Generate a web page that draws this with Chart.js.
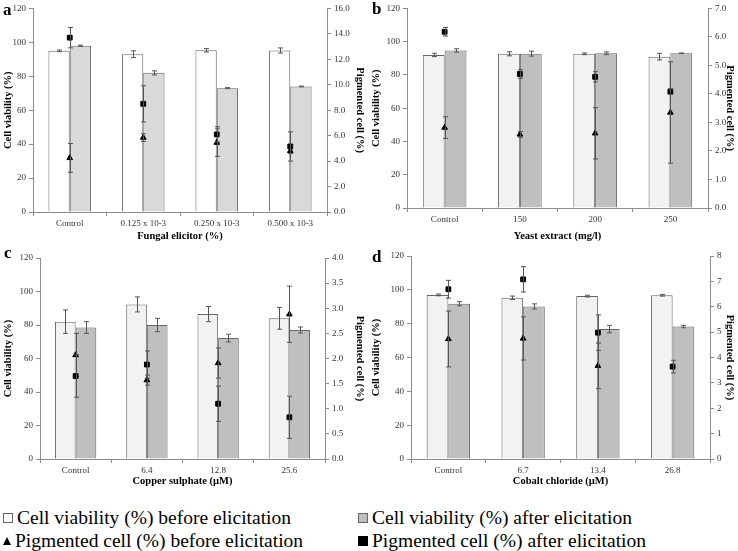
<!DOCTYPE html>
<html lang="en">
<head>
<meta charset="UTF-8">
<title>Elicitation panels</title>
<script src="https://cdn.jsdelivr.net/npm/chart.js"></script>
<style>
  body { margin: 0; width: 738px; height: 551px; background: #fff; position: relative; overflow: hidden;
         font-family: "Liberation Serif", serif; }
  .panel { position: absolute; }
  .letter { position: absolute; font-family: "Liberation Serif", serif; font-weight: bold; font-size: 17px; line-height: 17px; }
  .leg { position: absolute; font-family: "Liberation Serif", serif; font-size: 19.5px; line-height: 22px; color: #000; white-space: nowrap; }
  .sym { display: inline-block; vertical-align: middle; margin-right: 4px; position: relative; top: -2px; }
  .box { width: 8px; height: 8px; border: 1px solid #666; }
  .tri { width: 0; height: 0; border-left: 4px solid transparent; border-right: 4px solid transparent; border-bottom: 8px solid #000; }
</style>
</head>
<body>
<div class="panel" style="left:0;top:0;width:368px;height:245px"><canvas id="pa"></canvas></div>
<div class="panel" style="left:368px;top:0;width:370px;height:245px"><canvas id="pb"></canvas></div>
<div class="panel" style="left:0;top:245px;width:368px;height:245px"><canvas id="pc"></canvas></div>
<div class="panel" style="left:368px;top:245px;width:370px;height:245px"><canvas id="pd"></canvas></div>

<div class="letter" style="left:3px;top:1px">a</div>
<div class="letter" style="left:372px;top:0px">b</div>
<div class="letter" style="left:4px;top:244px">c</div>
<div class="letter" style="left:372px;top:248px">d</div>

<div class="leg" style="left:3px;top:507px"><span class="sym box" style="background:#fff"></span>Cell viability (%) before elicitation</div>
<div class="leg" style="left:358px;top:507px"><span class="sym box" style="background:#bfbfbf"></span>Cell viability (%) after elicitation</div>
<div class="leg" style="left:3px;top:530px"><span class="sym tri"></span>Pigmented cell (%) before elicitation</div>
<div class="leg" style="left:358px;top:530px"><span class="sym box" style="background:#000;border-color:#000"></span>Pigmented cell (%) after elicitation</div>

<script>
// ---- panel a: fungal elicitor
const catsA = ['Control', '0.125 x 10-3', '0.250 x 10-3', '0.500 x 10-3'];
const viaBeforeA = [95, 93, 95.3, 95.2];
const viaBeforeErrA = [0.5, 2, 1, 1.5];
const viaAfterA = [98, 82, 73, 74];
const viaAfterErrA = [0.3, 1.2, 0.3, 0.2];
const pigBeforeA = [4.25, 5.85, 5.45, 4.8];
const pigBeforeErrA = [1.13, 0.3, 1.08, 0.2];
const pigAfterA = [13.7, 8.5, 6.1, 5.15];
const pigAfterErrA = [0.8, 1.42, 0.6, 1.15];

// ---- panel b: yeast extract
const catsB = ['Control', '150', '200', '250'];
const viaBeforeB = [92, 92.7, 92.7, 91];
const viaBeforeErrB = [1, 1.2, 0.5, 2];
const viaAfterB = [94.7, 92.8, 93, 93];
const viaAfterErrB = [1, 1.5, 0.8, 0.2];
const pigBeforeB = [2.82, 2.58, 2.62, 3.35];
const pigBeforeErrB = [0.38, 0.1, 0.9, 1.78];
const pigAfterB = [6.18, 4.7, 4.6, 4.08];
const pigAfterErrB = [0.15, 0.15, 0.18, 0.1];

// ---- panel c: copper sulphate
const catsC = ['Control', '6.4', '12.8', '25.6'];
const viaBeforeC = [82, 92.3, 86.5, 84];
const viaBeforeErrC = [7, 4.5, 4.5, 6.5];
const viaAfterC = [78.5, 80, 72.2, 77];
const viaAfterErrC = [3.5, 4, 2.3, 1.8];
const pigBeforeC = [2.07, 1.57, 1.91, 2.88];
const pigBeforeErrC = [0.43, 0.1, 0.3, 0.56];
const pigAfterC = [1.65, 1.88, 1.1, 0.83];
const pigAfterErrC = [0.42, 0.27, 0.35, 0.42];

// ---- panel d: cobalt chloride
const catsD = ['Control', '6.7', '13.4', '26.8'];
const viaBeforeD = [97, 95.3, 96.3, 96.8];
const viaBeforeErrD = [0.5, 1, 0.5, 0.5];
const viaAfterD = [91.8, 90.2, 76.8, 78.3];
const viaAfterErrD = [1.2, 1.5, 2.2, 0.7];
const pigBeforeD = [4.73, 4.75, 3.67, null];
const pigBeforeErrD = [1.1, 0.85, 0.9, 0];
const pigAfterD = [6.69, 7.08, 4.98, 3.64];
const pigAfterErrD = [0.35, 0.5, 0.7, 0.25];

const SERIF = '"Liberation Serif", serif';
const AXIS = '#8c8c8c';

// draws error bars right after each dataset so stacking order is kept
const errorBars = {
  id: 'errorBars',
  afterDatasetDraw(chart, args) {
    const ds = chart.data.datasets[args.index];
    if (!ds.errors) return;
    const meta = args.meta;
    const scale = chart.scales[meta.yAxisID];
    const ctx = chart.ctx;
    ctx.save();
    ctx.strokeStyle = '#555';
    ctx.lineWidth = 1;
    meta.data.forEach((el, j) => {
      const v = ds.data[j], e = ds.errors[j];
      if (v == null || !e) return;
      const x = Math.round(el.x) + 0.5;
      const y1 = scale.getPixelForValue(v - e), y2 = scale.getPixelForValue(v + e);
      ctx.beginPath();
      ctx.moveTo(x, y1); ctx.lineTo(x, y2);
      ctx.moveTo(x - 2.5, y1); ctx.lineTo(x + 2.5, y1);
      ctx.moveTo(x - 2.5, y2); ctx.lineTo(x + 2.5, y2);
      ctx.stroke();
    });
    ctx.restore();
  }
};

function panel(id, p) {
  const tickFont = { family: SERIF, size: 9 };
  const titleFont = { family: SERIF, size: 10.5, weight: 'bold' };
  new Chart(document.getElementById(id), {
    data: {
      labels: p.cats,
      datasets: [
        { type: 'bar', data: p.vb, errors: p.vbe, backgroundColor: p.colBefore, borderColor: '#666',
          borderWidth: 1, yAxisID: 'y', categoryPercentage: 0.58, barPercentage: 1, order: 3 },
        { type: 'bar', data: p.va, errors: p.vae, backgroundColor: p.colAfter, borderColor: '#666',
          borderWidth: 1, yAxisID: 'y', categoryPercentage: 0.58, barPercentage: 1, order: 3 },
        { type: 'line', data: p.pb, errors: p.pbe, showLine: false, pointStyle: 'triangle', pointRadius: 3.3,
          backgroundColor: '#000', borderColor: '#000', pointBorderWidth: 1, yAxisID: 'y1', order: 2 },
        { type: 'line', data: p.pa, errors: p.pae, showLine: false, pointStyle: 'rect', pointRadius: 3.4,
          backgroundColor: '#000', borderColor: '#000', pointBorderWidth: 1, yAxisID: 'y1', order: 1 }
      ]
    },
    options: {
      responsive: true,
      maintainAspectRatio: false,
      animation: false,
      layout: { padding: { top: p.top, left: 0, right: 0, bottom: 0 } },
      plugins: { legend: { display: false }, tooltip: { enabled: false } },
      scales: {
        x: {
          grid: { drawOnChartArea: false, offset: true, color: AXIS, tickLength: 4 },
          border: { color: AXIS },
          ticks: { font: tickFont, color: '#333', padding: 2, maxRotation: 0 },
          title: { display: true, text: p.xTitle, font: titleFont, color: '#000', padding: { top: 2, bottom: 2 } },
          afterFit: s => { s.height = p.xh; }
        },
        y: {
          position: 'left', min: 0, max: 120,
          grid: { drawOnChartArea: false, color: AXIS, tickLength: 4 },
          border: { color: AXIS },
          ticks: { stepSize: 20, font: tickFont, color: '#333', padding: 3 },
          title: { display: true, text: 'Cell viability (%)', font: titleFont, color: '#000', padding: { top: 2, bottom: 2 } },
          afterFit: s => { s.width = p.lw; }
        },
        y1: {
          position: 'right', min: 0, max: p.rmax,
          grid: { drawOnChartArea: false, color: AXIS, tickLength: 4 },
          border: { color: AXIS },
          ticks: { stepSize: p.rstep, font: tickFont, color: '#333', padding: 3,
                   callback: v => p.rdec ? v.toFixed(1) : String(v) },
          title: { display: true, text: 'Pigmented cell (%)', font: titleFont, color: '#000', padding: { top: 2, bottom: 2 } },
          afterFit: s => { s.width = p.rw; }
        }
      }
    },
    plugins: [errorBars]
  });
}

panel('pa', { cats: catsA, vb: viaBeforeA, vbe: viaBeforeErrA, va: viaAfterA, vae: viaAfterErrA,
  pb: pigBeforeA, pbe: pigBeforeErrA, pa: pigAfterA, pae: pigAfterErrA,
  colBefore: '#ffffff', colAfter: '#d9d9d9', xTitle: 'Fungal elicitor (%)',
  rmax: 16, rstep: 2, rdec: true, top: 7, xh: 33, lw: 33, rw: 41 });

panel('pb', { cats: catsB, vb: viaBeforeB, vbe: viaBeforeErrB, va: viaAfterB, vae: viaAfterErrB,
  pb: pigBeforeB, pbe: pigBeforeErrB, pa: pigAfterB, pae: pigAfterErrB,
  colBefore: '#f2f2f2', colAfter: '#bfbfbf', xTitle: 'Yeast extract (mg/l)',
  rmax: 7, rstep: 1, rdec: true, top: 4, xh: 37, lw: 39, rw: 30 });

panel('pc', { cats: catsC, vb: viaBeforeC, vbe: viaBeforeErrC, va: viaAfterC, vae: viaAfterErrC,
  pb: pigBeforeC, pbe: pigBeforeErrC, pa: pigAfterC, pae: pigAfterErrC,
  colBefore: '#f2f2f2', colAfter: '#bfbfbf', xTitle: 'Copper sulphate (\u00b5M)',
  rmax: 4, rstep: 0.5, rdec: true, top: 13, xh: 31, lw: 40, rw: 43 });

panel('pd', { cats: catsD, vb: viaBeforeD, vbe: viaBeforeErrD, va: viaAfterD, vae: viaAfterErrD,
  pb: pigBeforeD, pbe: pigBeforeErrD, pa: pigAfterD, pae: pigAfterErrD,
  colBefore: '#f2f2f2', colAfter: '#bfbfbf', xTitle: 'Cobalt chloride (\u00b5M)',
  rmax: 8, rstep: 1, rdec: false, top: 11, xh: 31, lw: 43, rw: 28 });
</script>
</body>
</html>
